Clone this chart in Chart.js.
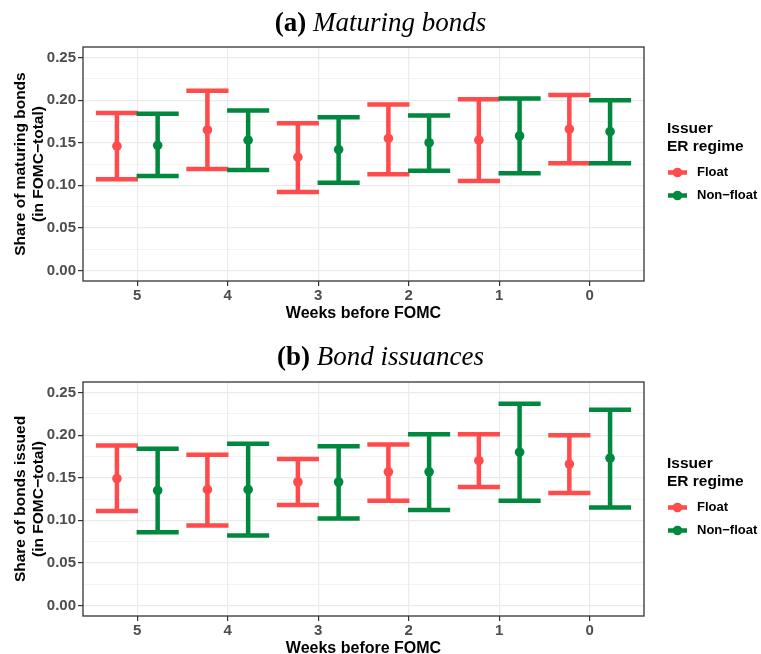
<!DOCTYPE html>
<html>
<head>
<meta charset="utf-8">
<script src="https://cdn.jsdelivr.net/npm/chart.js@4.4.1/dist/chart.umd.min.js"></script>
<style>
  body { margin: 0; background: #fff; }
  #wrap { position: relative; width: 761px; height: 654px; overflow: hidden; }
  .panel { position: absolute; left: 0; width: 761px; height: 327px; }
  .ttl { position: absolute; left: 0; width: 761px; text-align: center; font-family: "Liberation Serif", serif; font-size: 27px; line-height: 32px; color: #000; }
  .ttl b { font-weight: bold; }
  .ttl i { font-style: italic; }
</style>
</head>
<body>
<div id="wrap">
  <div class="panel" style="top:0"><canvas id="chartA" width="761" height="327"></canvas></div>
  <div class="panel" style="top:327px"><canvas id="chartB" width="761" height="327"></canvas></div>
  <div class="ttl" style="top:6px"><b>(a)</b> <i>Maturing bonds</i></div>
  <div class="ttl" style="top:340px"><b>(b)</b> <i>Bond issuances</i></div>
</div>
<script>
const weeks = ['5', '4', '3', '2', '1', '0'];
const yTicks = ['0.00', '0.05', '0.10', '0.15', '0.20', '0.25'];
const yMinor = [0.025, 0.075, 0.125, 0.175, 0.225];
const seriesNames = ['Float', 'Non\u2212float'];
const legendTitle = ['Issuer', 'ER regime'];

// (a) maturing bonds
const matFloatMean = [0.146, 0.165, 0.133, 0.155, 0.153, 0.166];
const matFloatLow  = [0.107, 0.119, 0.092, 0.113, 0.105, 0.126];
const matFloatHigh = [0.185, 0.211, 0.173, 0.195, 0.201, 0.206];
const matNonMean   = [0.147, 0.153, 0.142, 0.150, 0.158, 0.163];
const matNonLow    = [0.111, 0.118, 0.103, 0.117, 0.114, 0.126];
const matNonHigh   = [0.184, 0.188, 0.180, 0.182, 0.202, 0.200];

// (b) bond issuances
const issFloatMean = [0.149, 0.136, 0.145, 0.157, 0.170, 0.166];
const issFloatLow  = [0.111, 0.094, 0.118, 0.123, 0.139, 0.132];
const issFloatHigh = [0.188, 0.177, 0.172, 0.189, 0.201, 0.200];
const issNonMean   = [0.135, 0.136, 0.145, 0.157, 0.180, 0.173];
const issNonLow    = [0.086, 0.082, 0.102, 0.112, 0.123, 0.115];
const issNonHigh   = [0.184, 0.190, 0.187, 0.201, 0.237, 0.230];

const RED = '#FF4B4B';
const GREEN = '#00883E';
const FONT = '"Liberation Sans", Arial, sans-serif';
Chart.defaults.font.family = FONT;

const isMajor = v => Math.abs(v * 20 - Math.round(v * 20)) < 1e-6;

// error bars + mean points drawn at the bar positions
const errorBars = {
  id: 'errorBars',
  afterDatasetsDraw(chart) {
    const ctx = chart.ctx;
    const ys = chart.scales.y;
    chart.data.datasets.forEach((ds, di) => {
      chart.getDatasetMeta(di).data.forEach((bar, i) => {
        const top = ys.getPixelForValue(ds.high[i]);
        const bot = ys.getPixelForValue(ds.low[i]);
        const mid = ys.getPixelForValue(ds.data[i].y);
        const half = bar.width / 2 + 0.7;
        ctx.save();
        ctx.strokeStyle = ds.borderColor;
        ctx.fillStyle = ds.borderColor;
        ctx.lineWidth = 4.5;
        ctx.beginPath();
        ctx.moveTo(bar.x, top); ctx.lineTo(bar.x, bot);
        ctx.moveTo(bar.x - half, top); ctx.lineTo(bar.x + half, top);
        ctx.moveTo(bar.x - half, bot); ctx.lineTo(bar.x + half, bot);
        ctx.stroke();
        ctx.beginPath();
        ctx.arc(bar.x, mid, 4.8, 0, Math.PI * 2);
        ctx.fill();
        ctx.restore();
      });
    });
  }
};

// panel border and the legend on the right
const frameAndKey = {
  id: 'frameAndKey',
  afterDraw(chart) {
    const ctx = chart.ctx;
    const a = chart.chartArea;
    ctx.save();
    ctx.strokeStyle = '#333';
    ctx.lineWidth = 1.3;
    ctx.strokeRect(a.left, a.top, a.right - a.left, a.bottom - a.top);

    const cy = (a.top + a.bottom) / 2;
    const lx = a.right + 23;
    ctx.fillStyle = '#000';
    ctx.textAlign = 'left';
    ctx.textBaseline = 'middle';
    ctx.font = 'bold 15.5px ' + FONT;
    legendTitle.forEach((t, i) => ctx.fillText(t, lx, cy - 35 + i * 18));
    chart.data.datasets.forEach((ds, i) => {
      const yy = cy + 8.5 + i * 23;
      ctx.strokeStyle = ds.borderColor;
      ctx.fillStyle = ds.borderColor;
      ctx.lineWidth = 4.5;
      ctx.beginPath();
      ctx.moveTo(lx + 1, yy); ctx.lineTo(lx + 20, yy);
      ctx.stroke();
      ctx.beginPath();
      ctx.arc(lx + 10.5, yy, 4.8, 0, Math.PI * 2);
      ctx.fill();
      ctx.fillStyle = '#000';
      ctx.font = 'bold 13px ' + FONT;
      ctx.fillText(ds.label, lx + 30, yy);
    });
    ctx.restore();
  }
};

function makeSet(label, color, mean, low, high) {
  return {
    label: label,
    data: mean.map((m, i) => ({ x: i, y: m })),
    low: low,
    high: high,
    borderColor: color,
    backgroundColor: 'rgba(0,0,0,0)',
    borderWidth: 0
  };
}

function makeChart(id, yTitle, sets, padTop, xHeight, xTitlePad) {
  return new Chart(document.getElementById(id), {
    type: 'bar',
    data: { datasets: sets },
    plugins: [errorBars, frameAndKey],
    options: {
      responsive: false,
      animation: false,
      events: [],
      categoryPercentage: 0.9,
      barPercentage: 1,
      layout: { padding: { top: padTop, left: 0, right: 117, bottom: 0 } },
      plugins: { legend: { display: false }, tooltip: { enabled: false } },
      scales: {
        x: {
          type: 'linear',
          min: -0.6,
          max: 5.6,
          offset: false,
          afterBuildTicks: s => { s.ticks = weeks.map((w, i) => ({ value: i })); },
          afterFit: s => { s.height = xHeight; },
          ticks: {
            callback: v => weeks[v],
            color: '#4D4D4D',
            font: { size: 15, weight: 'bold' },
            padding: 1,
            maxRotation: 0,
            autoSkip: false
          },
          grid: { color: '#EBEBEB', lineWidth: 1.2, tickLength: 5, tickColor: '#333', tickWidth: 1.2, offset: false },
          border: { display: false },
          title: {
            display: true,
            text: 'Weeks before FOMC',
            color: '#000',
            font: { size: 16, weight: 'bold', lineHeight: 0.7 },
            padding: { top: 0, bottom: xTitlePad }
          }
        },
        y: {
          min: -0.0125,
          max: 0.2625,
          afterBuildTicks: s => {
            s.ticks = yTicks.map(t => ({ value: parseFloat(t) })).concat(yMinor.map(v => ({ value: v })));
          },
          afterFit: s => { s.width = 83; },
          ticks: {
            callback: v => isMajor(v) ? yTicks[Math.round(v * 20)] : '',
            color: '#4D4D4D',
            font: { size: 15, weight: 'bold' },
            padding: 2
          },
          grid: {
            color: '#EBEBEB',
            lineWidth: c => (c.tick && !isMajor(c.tick.value)) ? 0.6 : 1.2,
            tickLength: 5,
            tickWidth: 1.2,
            tickColor: c => (c.tick && !isMajor(c.tick.value)) ? 'rgba(0,0,0,0)' : '#333'
          },
          border: { display: false },
          title: {
            display: true,
            text: yTitle,
            color: '#000',
            font: { size: 15.5, weight: 'bold', lineHeight: '18px' },
            padding: { top: 12, bottom: 0 }
          }
        }
      }
    }
  });
}

makeChart('chartA', ['Share of maturing bonds', '(in FOMC\u2212total)'], [
  makeSet(seriesNames[0], RED, matFloatMean, matFloatLow, matFloatHigh),
  makeSet(seriesNames[1], GREEN, matNonMean, matNonLow, matNonHigh)
], 47, 46, 7.5);

makeChart('chartB', ['Share of bonds issued', '(in FOMC\u2212total)'], [
  makeSet(seriesNames[0], RED, issFloatMean, issFloatLow, issFloatHigh),
  makeSet(seriesNames[1], GREEN, issNonMean, issNonLow, issNonHigh)
], 55, 38, 0);
</script>
</body>
</html>
